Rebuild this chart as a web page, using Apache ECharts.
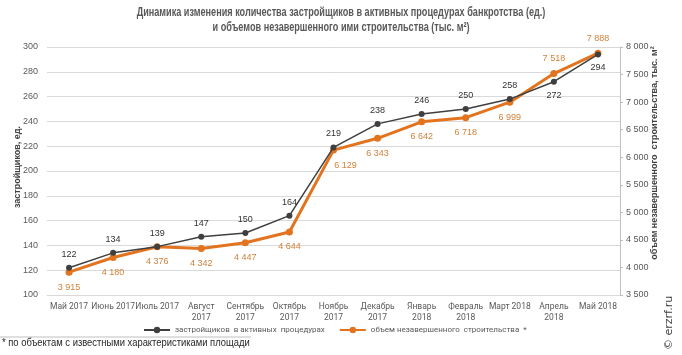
<!DOCTYPE html>
<html><head><meta charset="utf-8">
<script src="https://cdn.jsdelivr.net/npm/echarts@6/dist/echarts.min.js"></script>
<style>html,body{margin:0;padding:0;background:#fff}#c{width:682px;height:355px}</style>
</head><body><div id="c"></div>
<script>
const categories = ['Май 2017','Июнь 2017','Июль 2017','Август\n2017','Сентябрь\n2017','Октябрь\n2017','Ноябрь\n2017','Декабрь\n2017','Январь\n2018','Февраль\n2018','Март 2018','Апрель\n2018','Май 2018'];
const developers = [122,134,139,147,150,164,219,238,246,250,258,272,294];
const volume = [3915,4180,4376,4342,4447,4644,6129,6343,6642,6718,6999,7518,7888];
const devLabelBelow = [11,12];
const volLabelAbove = [11,12];
const leftTicks = {min:100,max:300,interval:20};
const rightTicks = {min:3500,max:8000,interval:500};
const titleText = 'Динамика изменения количества застройщиков в активных процедурах банкротства (ед.)\nи объемов незавершенного ими строительства (тыс. м²)';
const footnoteText = '* по объектам с известными характеристиками площади';
const seriesNames = ['застройщиков  в активных  процедурах','объем незавершенного  строительства  *'];

const ORANGE = '#E3741F';
const DARK = '#3F3F3F';
const FONT = '"Liberation Sans", Arial, sans-serif';

const fmt = v => String(v).replace(/\B(?=(\d{3})+(?!\d))/g, '\u00a0');

const chart = echarts.init(document.getElementById('c'));
chart.setOption({
  animation:false,
  textStyle:{fontFamily:FONT},
  grid:{left:47,right:62,top:47,bottom:60,containLabel:false,outerBoundsMode:'none'},
  legend:{
    top:321, left:138, itemGap:14, itemWidth:26, itemHeight:8,
    textStyle:{fontSize:8,color:'#595959',fontFamily:'Roboto'},
    data:seriesNames.map(n=>({name:n}))
  },
  xAxis:{
    type:'category', data:categories, boundaryGap:true,
    axisLine:{show:true,lineStyle:{color:'#D9D9D9'}},
    axisTick:{show:false},
    axisLabel:{interval:0,fontSize:8.5,color:'#595959',lineHeight:11,margin:6,fontFamily:'Roboto'}
  },
  yAxis:[
    {type:'value', position:'left', min:leftTicks.min, max:leftTicks.max, interval:leftTicks.interval,
     name:'застройщиков, ед.', nameLocation:'middle', nameRotate:90, nameGap:25, nameMoveOverlap:false,
     nameTextStyle:{fontSize:9,color:'#404040',fontWeight:'bold',padding:[0,0,0,8]},
     axisLine:{show:false}, axisTick:{show:false},
     axisLabel:{fontSize:9,color:'#595959',margin:9},
     splitLine:{lineStyle:{color:'#D9D9D9',width:1}}},
    {type:'value', position:'right', min:rightTicks.min, max:rightTicks.max, interval:rightTicks.interval,
     name:'объем незавершенного  строительства, тыс. м²', nameLocation:'middle', nameRotate:90, nameGap:30, nameMoveOverlap:false,
     nameTextStyle:{fontSize:9,color:'#404040',fontWeight:'bold',padding:[0,0,0,36]},
     axisLine:{show:true,lineStyle:{color:'#BFBFBF'}},
     axisTick:{show:true,inside:false,length:3,lineStyle:{color:'#BFBFBF'}},
     axisLabel:{fontSize:9,color:'#595959',margin:6,formatter:fmt},
     splitLine:{show:false}}
  ],
  series:[
    {name:seriesNames[0], type:'line', yAxisIndex:0, data:developers.map((v,i)=>({value:v,label:{position:devLabelBelow.includes(i)?'bottom':'top'}})),
     z:3, symbol:'circle', symbolSize:6, lineStyle:{color:DARK,width:1.5}, itemStyle:{color:DARK},
     label:{show:true,fontSize:9,color:'#333333',distance:6}},
    {name:seriesNames[1], type:'line', yAxisIndex:1, data:volume.map((v,i)=>({value:v,label:{position:volLabelAbove.includes(i)?'top':'bottom',offset:i===6?[12,0]:[0,0]}})),
     z:2, symbol:'circle', symbolSize:7, lineStyle:{color:ORANGE,width:3}, itemStyle:{color:ORANGE},
     label:{show:true,fontSize:9,color:'#D4803A',distance:7,formatter:p=>fmt(p.value)}}
  ],
  graphic:[
    {type:'text', x:341, y:5, scaleX:0.76, style:{text:titleText, textAlign:'center', fontSize:12, fontWeight:'bold', lineHeight:15, fill:'#595959', fontFamily:FONT}},
    {type:'line', shape:{x1:0,y1:337,x2:251,y2:337}, style:{stroke:'#BFBFBF',lineWidth:1}},
    {type:'text', x:2, y:338, scaleX:0.94, style:{text:footnoteText, fontSize:10, fill:'#262626', fontFamily:FONT}},
    {type:'text', x:664, y:350, rotation:Math.PI/2, style:{text:'© erzrf.ru', fontSize:11, fill:'#404040', fontFamily:'DejaVu Sans'}}
  ]
});
</script></body></html>
